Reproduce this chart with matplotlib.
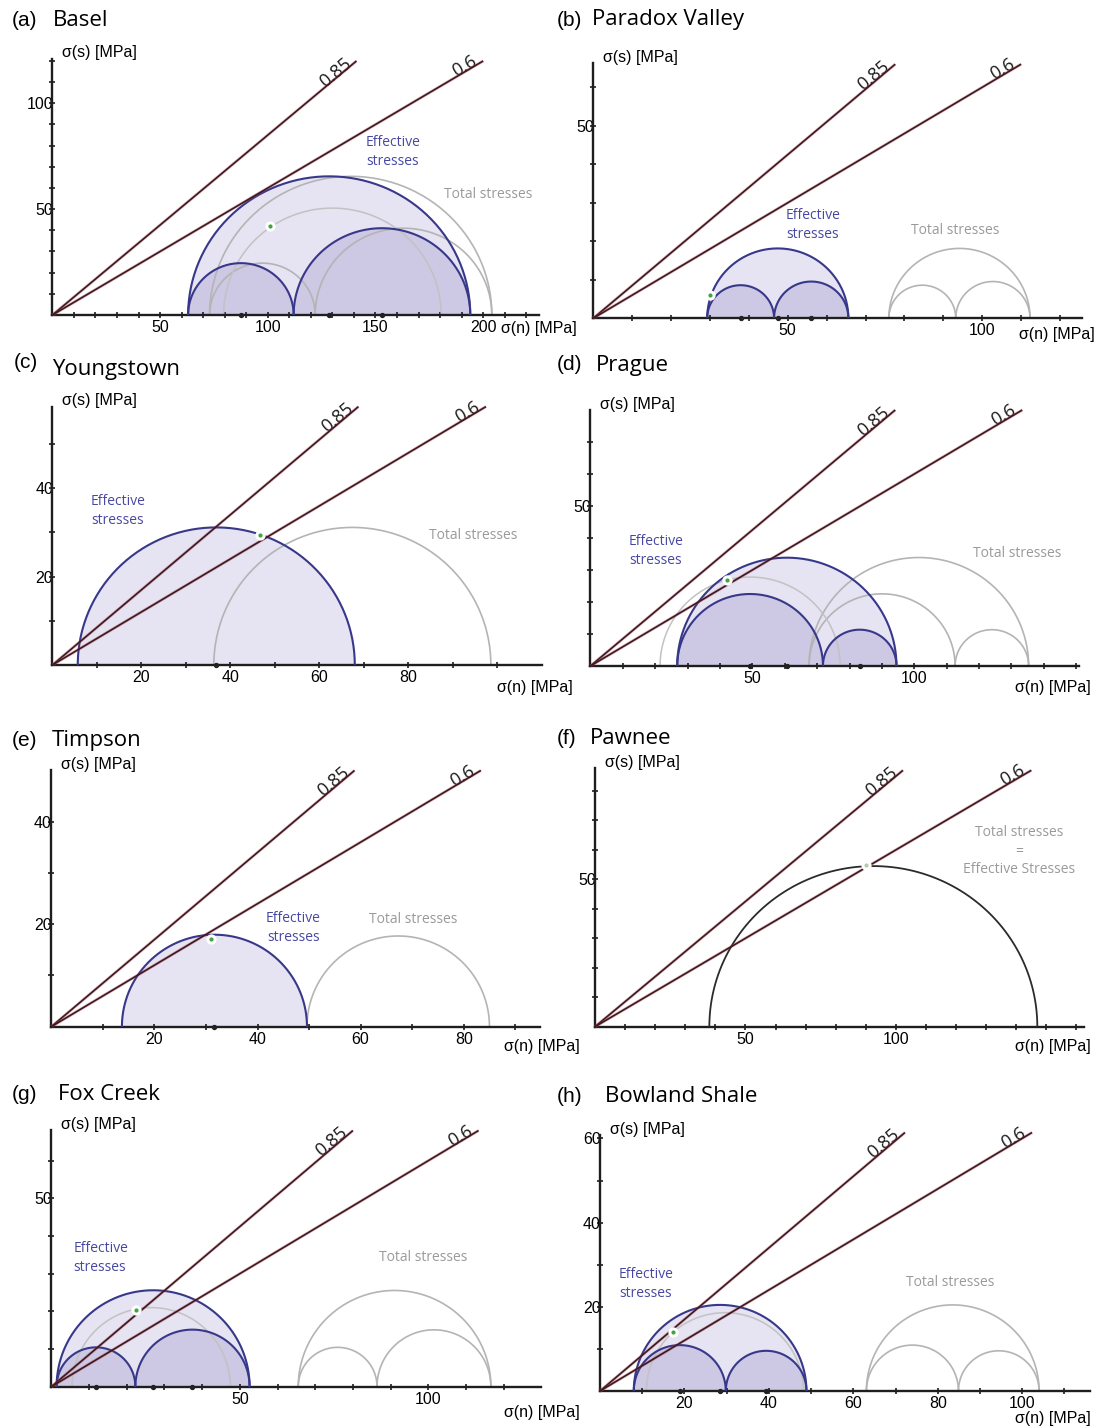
import numpy as np
import matplotlib.pyplot as plt

# panel titles
letters = ['(a)', '(b)', '(c)', '(d)', '(e)', '(f)', '(g)', '(h)']
sites = ['Basel', 'Paradox Valley', 'Youngstown', 'Prague',
         'Timpson', 'Pawnee', 'Fox Creek', 'Bowland Shale']

# effective principal stresses [MPa], None = no sigma2 circles
eff_s3 = [63, 29.3, 5.7, 26.8, 13.7, 38, 1.4, 8.0]
eff_s2 = [112, 46.5, None, 71.8, None, None, 22.3, 29.8]
eff_s1 = [194, 65.6, 68.0, 94.5, 49.6, 147, 52.6, 48.9]

# total principal stresses [MPa]
tot_s3 = [73, 76, 36.3, 67.5, 49.6, 38, 65.5, 63.1]
tot_s2 = [122, 93.2, None, 112.6, None, None, 86.4, 84.9]
tot_s1 = [204, 112.3, 98.6, 135.3, 85.0, 147, 116.6, 104.0]

# total = effective (no pore pressure change)
same_stress = [False, False, False, False, False, True, False, False]

# extra grey circle inside the effective circle (centre, radius)
mid_c = [130, None, None, 49.3, None, None, 26.5, 29.6]
mid_r = [50.5, None, None, 27.8, None, None, 21, 18.6]

# stress state on the failure envelope
dot_sn = [101, 30.1, 46.6, 42.1, 31.0, 90.2, 22.5, 17.3]
dot_tau = [42, 6.1, 29.4, 26.9, 17.2, 54.9, 20.4, 13.9]

# friction lines
friction = [0.85, 0.6]
friction_txt = ['0.85', '0.6']
tau_top = [120, 66, 58.5, 80, 50, 87, 68, 61.4]

# axis extents and labelled ticks
x_max = [226, 125.6, 110, 150.8, 94.8, 162.6, 130, 116]
y_max = [121, 66.3, 58.5, 80, 50, 87.7, 68.1, 60.8]
x_labels = [[50, 100, 150, 200], [50, 100], [20, 40, 60, 80], [50, 100],
            [20, 40, 60, 80], [50, 100], [50, 100], [20, 40, 60, 80, 100]]
y_labels = [[50, 100], [50], [20, 40], [50], [20, 40], [50], [50], [20, 40, 60]]

# ---- layout (pixels) ----
W, H = 1110, 1428
# origin x, origin y, px per MPa in x, px per MPa in y
frames = [(52.4, 315, 2.154, 2.117), (593.2, 318.3, 3.89, 3.85),
          (52.4, 665, 4.447, 4.417), (590.4, 666, 3.239, 3.2),
          (51.3, 1026.7, 5.155, 5.125), (595, 1026.7, 3.009, 2.947),
          (51.3, 1386.7, 3.77, 3.767), (600, 1391, 4.222, 4.21)]
# letter x, letter y, name x, name y
title_pos = [(12, 20, 53, 20), (557, 20, 592, 20), (14, 363, 52, 370), (557, 365, 596, 365),
             (12, 740, 52, 740), (557, 738, 590, 738), (12, 1095, 58, 1095), (557, 1097, 605, 1097)]
xlab_pos = [(501, 329), (1019, 335), (497, 687), (1015, 687),
            (504, 1047), (1015, 1047), (504, 1413), (1015, 1418)]
# label positions in data units
eff_txt = [(158, 76.8, 'center'), (56.5, 24.2, 'center'), (8.7, 34.9, 'left'), (11.9, 35.9, 'left'),
           (46.9, 19.3, 'center'), None, (5.9, 34.2, 'left'), (4.5, 25.5, 'left')]
tot_txt = [(202.2, 56.7), (93, 22.7), (94.6, 29.4), (131.7, 35.3),
           (70.2, 21.0), (140.9, 59.6), (98.6, 34.4), (82.9, 25.7)]

EFF_EDGE = '#38388a'
EFF_FILL = '#e6e3f2'
EFF_FILL2 = '#cdc8e3'
TOT_EDGE = '#b4b4b4'
LINE_COL = '#3a1a20'

theta = np.linspace(0, np.pi, 200)


def semicircle(a, b):
    c, r = (a + b) / 2, (b - a) / 2
    return c + r * np.cos(theta), r * np.sin(theta)


fig = plt.figure(figsize=(W / 100, H / 100), dpi=100)

for i in range(8):
    ox, oy, sx, sy = frames[i]
    ax = fig.add_axes([ox / W, 1 - oy / H, x_max[i] * sx / W, y_max[i] * sy / H])
    ax.set_xlim(0, x_max[i])
    ax.set_ylim(0, y_max[i])
    ax.patch.set_alpha(0)
    for s in ['top', 'right']:
        ax.spines[s].set_visible(False)
    for s in ['left', 'bottom']:
        ax.spines[s].set_linewidth(1.7)
        ax.spines[s].set_color('#1e1e1e')

    xt = np.arange(10, x_max[i], 10)
    yt = np.arange(10, y_max[i], 10)
    ax.set_xticks(xt)
    ax.set_xticklabels([str(int(v)) if int(v) in x_labels[i] else '' for v in xt])
    ax.set_yticks(yt)
    ax.set_yticklabels([str(int(v)) if int(v) in y_labels[i] else '' for v in yt])
    ax.tick_params(direction='inout', length=5, width=1.2, color='#1e1e1e',
                   labelsize=11.5, labelfontfamily='Liberation Sans')
    ax.tick_params(axis='x', pad=1)
    ax.tick_params(axis='y', pad=-3)

    # circles
    if same_stress[i]:
        x, y = semicircle(eff_s3[i], eff_s1[i])
        ax.plot(x, y, color='#2b2b2b', lw=1.3, zorder=3)
    else:
        x, y = semicircle(eff_s3[i], eff_s1[i])
        ax.fill(x, y, color=EFF_FILL, lw=0, zorder=1)
        if eff_s2[i] is not None:
            for a, b in [(eff_s3[i], eff_s2[i]), (eff_s2[i], eff_s1[i])]:
                xs, ys = semicircle(a, b)
                ax.fill(xs, ys, color=EFF_FILL2, lw=0, zorder=1)
        # total stresses
        pairs = [(tot_s3[i], tot_s1[i])]
        if tot_s2[i] is not None:
            pairs += [(tot_s3[i], tot_s2[i]), (tot_s2[i], tot_s1[i])]
        for a, b in pairs:
            xs, ys = semicircle(a, b)
            ax.plot(xs, ys, color=TOT_EDGE, lw=1.2, zorder=2)
        if mid_c[i] is not None:
            xs, ys = semicircle(mid_c[i] - mid_r[i], mid_c[i] + mid_r[i])
            ax.plot(xs, ys, color='#c2c2c2', lw=1.1, zorder=2)
        # effective outlines
        pairs = [(eff_s3[i], eff_s1[i])]
        if eff_s2[i] is not None:
            pairs += [(eff_s3[i], eff_s2[i]), (eff_s2[i], eff_s1[i])]
        for a, b in pairs:
            xs, ys = semicircle(a, b)
            ax.plot(xs, ys, color=EFF_EDGE, lw=1.5, zorder=3)
        centres = [(a + b) / 2 for a, b in pairs]
        ax.scatter(centres, [0] * len(centres), s=8, color='#222222', zorder=6, clip_on=False)

    # friction lines
    for mu, lab in zip(friction, friction_txt):
        xe = tau_top[i] / mu
        ax.plot([0, xe], [0, tau_top[i]], color='#b84050', lw=2.2, alpha=0.35,
                zorder=4, clip_on=False, solid_capstyle='butt')
        ax.plot([0, xe], [0, tau_top[i]], color=LINE_COL, lw=1.2,
                zorder=4, clip_on=False, solid_capstyle='butt')
        # label sits on the line, a few pixels short of its end
        length_px = np.hypot(xe * sx, tau_top[i] * sy)
        t = 1 - 6 / length_px
        ax.text(xe * t, tau_top[i] * t, lab, rotation=np.degrees(np.arctan(mu)),
                rotation_mode='anchor', transform_rotates_text=True,
                ha='right', va='baseline', fontsize=13, family='Open Sans',
                color='#1a1a1a')

    # failure point
    ax.scatter([dot_sn[i]], [dot_tau[i]], s=55, color='white', zorder=5, lw=0)
    ax.scatter([dot_sn[i]], [dot_tau[i]], s=9,
               color='#b8c8b0' if same_stress[i] else '#3fa53f', zorder=6, lw=0)

    # labels
    if eff_txt[i] is not None:
        tx, ty, ha = eff_txt[i]
        ax.text(tx, ty, 'Effective\nstresses', ha=ha, va='center', fontsize=10,
                family='Open Sans', color='#4848a2', linespacing=1.35)
    tx, ty = tot_txt[i]
    if same_stress[i]:
        ax.text(tx, ty, 'Total stresses\n=\nEffective Stresses', ha='center', va='center',
                fontsize=10, family='Open Sans', color='#9a9a9a', linespacing=1.35)
    else:
        ax.text(tx, ty, 'Total stresses', ha='center', va='center', fontsize=10,
                family='Open Sans', color='#9a9a9a')

    # axis labels
    fig.text((ox + 10) / W, 1 - (oy - y_max[i] * sy - 6) / H, 'σ(s) [MPa]',
             ha='left', va='center', fontsize=11.5, family='Liberation Sans')
    lx, ly = xlab_pos[i]
    fig.text(lx / W, 1 - ly / H, 'σ(n) [MPa]', ha='left', va='center',
             fontsize=11.5, family='Liberation Sans')

    # titles
    x1, y1, x2, y2 = title_pos[i]
    fig.text(x1 / W, 1 - y1 / H, letters[i], ha='left', va='center',
             fontsize=15, family='Liberation Sans')
    fig.text(x2 / W, 1 - y2 / H, sites[i], ha='left', va='center',
             fontsize=16, family='Open Sans')

fig.savefig('out.png', dpi=100, facecolor='white')
